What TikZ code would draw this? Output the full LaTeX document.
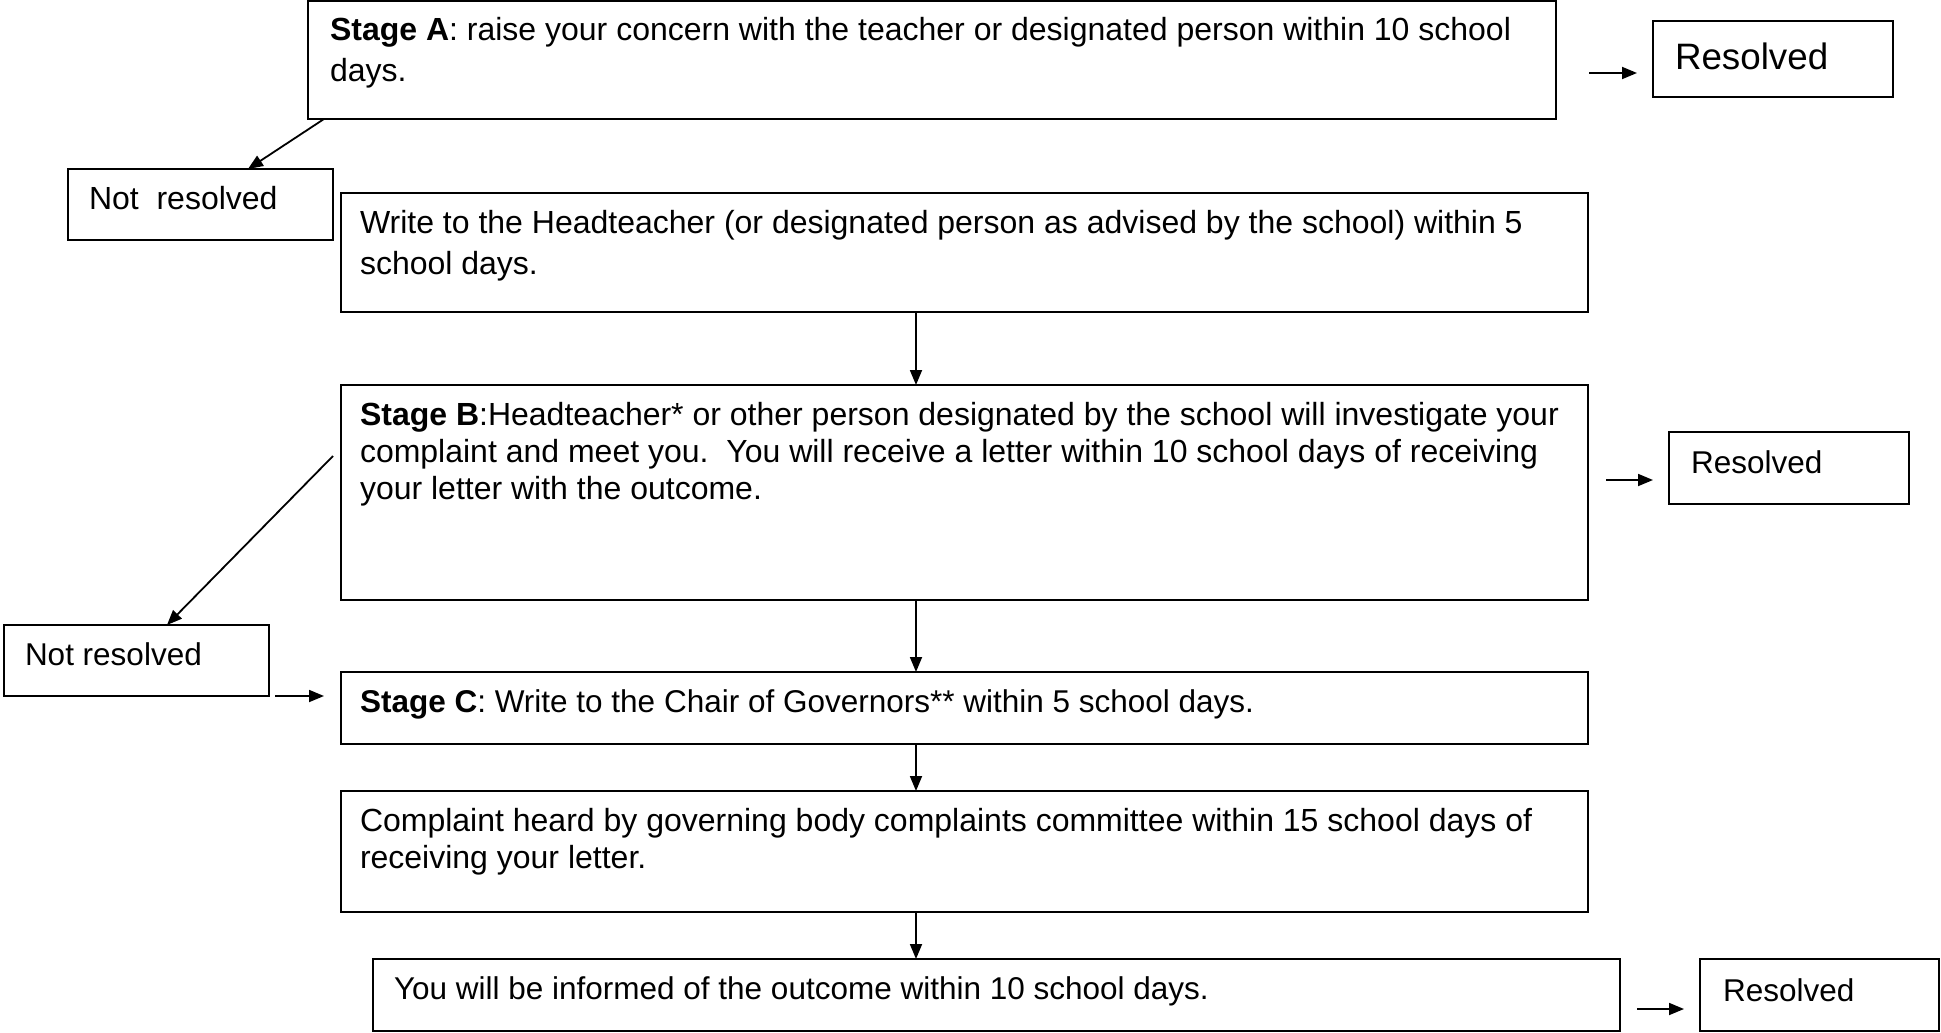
\documentclass[tikz,border=0pt]{standalone}
\usepackage{fontspec}
\setmainfont{Liberation Sans}
\usetikzlibrary{arrows.meta,calc}
\newcommand\fsn{\fontsize{32}{38}\selectfont}
\newcommand\fss{\fontsize{31.5}{38}\selectfont}
\newcommand\fsb{\fontsize{36.75}{42}\selectfont}
\newcommand\tl[3]{\parbox[t]{#1}{\fontsize{32}{#2}\selectfont\raggedright #3}}
\begin{document}
\begin{tikzpicture}[x=1pt,y=-1pt,
  box/.style={draw, line width=1.7pt, inner sep=0pt, outer sep=0pt, anchor=north west},
  txt/.style={anchor=base west, inner sep=0pt, outer sep=0pt},
  arr/.style={line width=1.8pt, -{Triangle[length=15pt,width=12pt]}}]
\useasboundingbox (0,0) rectangle (1941,1033);
% boxes
\node[box, minimum width=1248pt, minimum height=118pt] (A) at (308,1) {};
\node[box, minimum width=240pt, minimum height=76pt] (R1) at (1653,21) {};
\node[box, minimum width=265pt, minimum height=71pt] (NR1) at (68,169) {};
\node[box, minimum width=1247pt, minimum height=119pt] (W) at (341,193) {};
\node[box, minimum width=1247pt, minimum height=215pt] (B) at (341,385) {};
\node[box, minimum width=240pt, minimum height=72pt] (R2) at (1669,432) {};
\node[box, minimum width=265pt, minimum height=71pt] (NR2) at (4,625) {};
\node[box, minimum width=1247pt, minimum height=72pt] (C) at (341,672) {};
\node[box, minimum width=1247pt, minimum height=121pt] (D) at (341,791) {};
\node[box, minimum width=1247pt, minimum height=72pt] (E) at (373,959) {};
\node[box, minimum width=239pt, minimum height=72pt] (R3) at (1700,959) {};
% texts
\node[txt] (tA) at (330,41) {\tl{1220pt}{41}{\textbf{Stage A}: raise your concern with the teacher or designated person within 10 school\\days.}};
\node[txt] (tR1) at (1675,70) {\fsb Resolved};
\node[txt] (tNR1) at (89,209) {\fsn Not\ \ resolved};
\node[txt] (tW) at (360,233) {\tl{1220pt}{41}{Write to the Headteacher (or designated person as advised by the school) within 5\\school days.}};
\node[txt] (tB) at (360,425) {\tl{1220pt}{37}{\textbf{Stage B}:Headteacher* or other person designated by the school will investigate your\\complaint and meet you.\ \ You will receive a letter within 10 school days of receiving\\your letter with the outcome.}};
\node[txt] (tR2) at (1691,473) {\fss Resolved};
\node[txt] (tNR2) at (25,665) {\fss Not resolved};
\node[txt] (tC) at (360,712) {\fss\textbf{Stage C}: Write to the Chair of Governors** within 5 school days.};
\node[txt] (tD) at (360,831) {\tl{1220pt}{37}{Complaint heard by governing body complaints committee within 15 school days of\\receiving your letter.}};
\node[txt] (tE) at (394,999) {\fss You will be informed of the outcome within 10 school days.};
\node[txt] (tR3) at (1723,1001) {\fss Resolved};
% helper coordinates
\coordinate (ax) at (916,0);
\coordinate (y1) at (0,73);
\coordinate (y2) at (0,480);
\coordinate (y3) at (0,1009);
\coordinate (y4) at (0,696);
% connectors
\draw[arr] ([xshift=16pt]A.south west) -- ([xshift=180pt]NR1.north west);
\draw[arr, shorten <=33pt, shorten >=16pt] (A.east |- y1) -- (R1.west |- y1);
\draw[arr] (W.south -| ax) -- (B.north -| ax);
\draw[arr] ([shift={(-8pt,-71pt)}]B.north west) -- ([xshift=163pt]NR2.north west);
\draw[arr, shorten <=18pt, shorten >=16pt] (B.east |- y2) -- (R2.west |- y2);
\draw[arr] (B.south -| ax) -- (C.north -| ax);
\draw[arr, shorten <=6pt, shorten >=17pt] (NR2.east |- y4) -- (C.west |- y4);
\draw[arr] (C.south -| ax) -- (D.north -| ax);
\draw[arr] (D.south -| ax) -- (E.north -| ax);
\draw[arr, shorten <=17pt, shorten >=16pt] (E.east |- y3) -- (R3.west |- y3);
\end{tikzpicture}
\end{document}
